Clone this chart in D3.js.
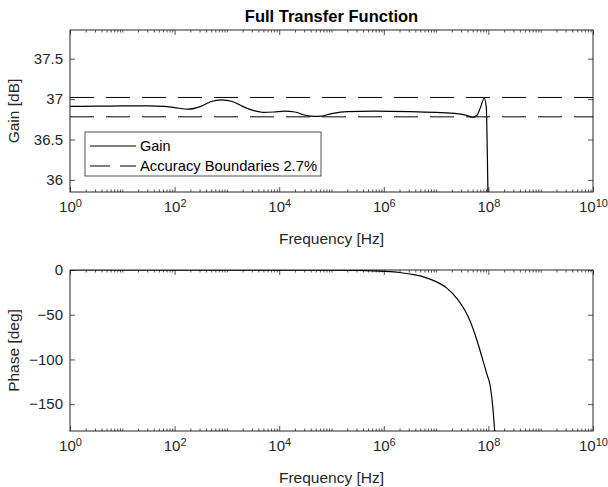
<!DOCTYPE html>
<html>
<head>
<meta charset="utf-8">
<script src="https://cdn.jsdelivr.net/npm/d3@7"></script>
<style>
  body { margin: 0; background: #fff; }
  svg { font-family: Arial, "Liberation Sans", Helvetica, sans-serif; }
  .axis path { display: none; }
  .axis line { stroke: #262626; stroke-width: 0.8; }
  .axis text { fill: #262626; font-size: 15px; }
</style>
</head>
<body>
<div id="chart"></div>
<script>
// gain curve (log10 of frequency, dB)
var gainLogF = [0, 0.5, 1.0, 1.5, 1.8, 2.0, 2.26, 2.5, 2.7, 2.9, 3.1, 3.3, 3.5, 3.7, 3.9, 4.1, 4.3, 4.5, 4.65, 4.8, 5.0, 5.3, 5.8, 6.5, 7.0, 7.4, 7.6, 7.7, 7.78, 7.85, 7.92, 7.96, 7.98, 8.0];
var gainDb   = [36.91, 36.912, 36.915, 36.917, 36.91, 36.895, 36.875, 36.91, 36.97, 36.99, 36.97, 36.91, 36.86, 36.835, 36.84, 36.85, 36.84, 36.80, 36.785, 36.79, 36.82, 36.845, 36.85, 36.845, 36.835, 36.82, 36.795, 36.775, 36.80, 36.90, 37.01, 36.9, 36.3, 35.5];

// accuracy boundaries (dB)
var boundsDb = [37.02, 36.78];

// phase curve (log10 of frequency, degrees)
var phaseLogF = [0, 3, 5, 5.5, 6, 6.3, 6.6, 6.8, 7.0, 7.2, 7.4, 7.55, 7.65, 7.75, 7.85, 7.92, 7.98, 8.03, 8.06, 8.09, 8.12];
var phaseDeg  = [0, -0.1, -0.2, -0.5, -1.5, -2.8, -5.5, -8.5, -13, -20, -32, -45, -57, -73, -92, -106, -118, -128, -140, -157, -180];

var freqTicks  = [1e0, 1e2, 1e4, 1e6, 1e8, 1e10];
var gainTicks  = [36, 36.5, 37, 37.5];
var phaseTicks = [-150, -100, -50, 0];

var width = 608, height = 487;
var left = 70, right = 593;

var svg = d3.select("#chart").append("svg")
    .attr("width", width)
    .attr("height", height);

var xScale = d3.scaleLog()
    .domain([1, 1e10])
    .range([left, right]);

// minor ticks: 1..9 x each decade
var minorTicks = [];
for (var k = 0; k < 10; k++)
  for (var i = 1; i < 10; i++)
    if (!(i == 1 && k % 2 == 0)) minorTicks.push(i * Math.pow(10, k));

function panel(top, bottom, yDomain, yTicks, yLabel, clipId) {
  var yScale = d3.scaleLinear().domain(yDomain).range([bottom, top]);
  var g = svg.append("g");

  g.append("clipPath").attr("id", clipId)
    .append("rect")
      .attr("x", left).attr("y", top)
      .attr("width", right - left).attr("height", bottom - top);

  // x axes bottom / top
  var xb = g.append("g").attr("class", "axis")
      .attr("transform", "translate(0," + bottom + ")")
      .call(d3.axisBottom(xScale).tickValues(freqTicks).tickSize(-5).tickPadding(9).tickFormat(""));
  xb.selectAll(".tick text").each(function(d) {
    var t = d3.select(this);
    t.append("tspan").text("10");
    t.append("tspan").attr("dy", "-0.45em").style("font-size", "11px")
      .text(Math.round(Math.log10(d)));
  });
  g.append("g").attr("class", "axis")
      .attr("transform", "translate(0," + bottom + ")")
      .call(d3.axisBottom(xScale).tickValues(minorTicks).tickSize(-2.5).tickFormat(""));
  g.append("g").attr("class", "axis")
      .attr("transform", "translate(0," + top + ")")
      .call(d3.axisTop(xScale).tickValues(freqTicks).tickSize(-5).tickFormat(""));
  g.append("g").attr("class", "axis")
      .attr("transform", "translate(0," + top + ")")
      .call(d3.axisTop(xScale).tickValues(minorTicks).tickSize(-2.5).tickFormat(""));

  // y axes left / right
  g.append("g").attr("class", "axis")
      .attr("transform", "translate(" + left + ",0)")
      .call(d3.axisLeft(yScale).tickValues(yTicks).tickSize(-5).tickPadding(7).tickFormat(d3.format("")));
  g.append("g").attr("class", "axis")
      .attr("transform", "translate(" + right + ",0)")
      .call(d3.axisRight(yScale).tickValues(yTicks).tickSize(-5).tickFormat(""));

  g.append("rect")
    .attr("x", left).attr("y", top)
    .attr("width", right - left).attr("height", bottom - top)
    .attr("fill", "none")
    .attr("stroke", "#262626")
    .attr("stroke-width", 1);

  g.append("text")
    .attr("transform", "translate(19," + ((top + bottom) / 2) + ") rotate(-90)")
    .attr("text-anchor", "middle")
    .attr("fill", "#262626")
    .style("font-size", "15.5px")
    .text(yLabel);

  g.append("text")
    .attr("x", (left + right) / 2)
    .attr("y", bottom + 52)
    .attr("text-anchor", "middle")
    .attr("fill", "#262626")
    .style("font-size", "15.5px")
    .text("Frequency [Hz]");

  return {g: g, y: yScale};
}

var line = (ys) => d3.line()
    .x(d => xScale(Math.pow(10, d[0])))
    .y(d => ys(d[1]))
    .curve(d3.curveMonotoneX);

// top: gain
var p1 = panel(30, 192, [35.85, 37.855], gainTicks, "Gain [dB]", "clipGain");

p1.g.selectAll(".bound")
    .data(boundsDb)
  .enter().append("line")
    .attr("class", "bound")
    .attr("x1", left).attr("x2", right)
    .attr("y1", d => p1.y(d)).attr("y2", d => p1.y(d))
    .attr("stroke", "#000")
    .attr("stroke-width", 1)
    .attr("stroke-dasharray", "24,12");

p1.g.append("path")
    .datum(d3.zip(gainLogF, gainDb))
    .attr("clip-path", "url(#clipGain)")
    .attr("fill", "none")
    .attr("stroke", "#000")
    .attr("stroke-width", 1.2)
    .attr("d", line(p1.y));

// legend
var lg = p1.g.append("g");
lg.append("rect")
    .attr("x", 85).attr("y", 132).attr("width", 236).attr("height", 44)
    .attr("fill", "#fff").attr("stroke", "#262626").attr("stroke-width", 0.8);
lg.append("line")
    .attr("x1", 90).attr("x2", 136).attr("y1", 146).attr("y2", 146)
    .attr("stroke", "#000").attr("stroke-width", 1.2);
lg.append("line")
    .attr("x1", 90).attr("x2", 136).attr("y1", 166).attr("y2", 166)
    .attr("stroke", "#000").attr("stroke-width", 1)
    .attr("stroke-dasharray", "20,10");
lg.append("text").attr("x", 140).attr("y", 151)
    .attr("fill", "#000").style("font-size", "14.5px").text("Gain");
lg.append("text").attr("x", 140).attr("y", 171)
    .attr("fill", "#000").style("font-size", "14.5px")
    .attr("textLength", 177).attr("lengthAdjust", "spacingAndGlyphs")
    .text("Accuracy Boundaries 2.7%");

// bottom: phase
var p2 = panel(270, 431, [-180, 0], phaseTicks, "Phase [deg]", "clipPhase");

p2.g.append("path")
    .datum(d3.zip(phaseLogF, phaseDeg))
    .attr("clip-path", "url(#clipPhase)")
    .attr("fill", "none")
    .attr("stroke", "#000")
    .attr("stroke-width", 1.2)
    .attr("d", line(p2.y));

svg.append("text")
    .attr("x", (left + right) / 2)
    .attr("y", 22)
    .attr("text-anchor", "middle")
    .attr("fill", "#000")
    .style("font-size", "16.5px")
    .style("font-weight", "bold")
    .text("Full Transfer Function");
</script>
</body>
</html>
